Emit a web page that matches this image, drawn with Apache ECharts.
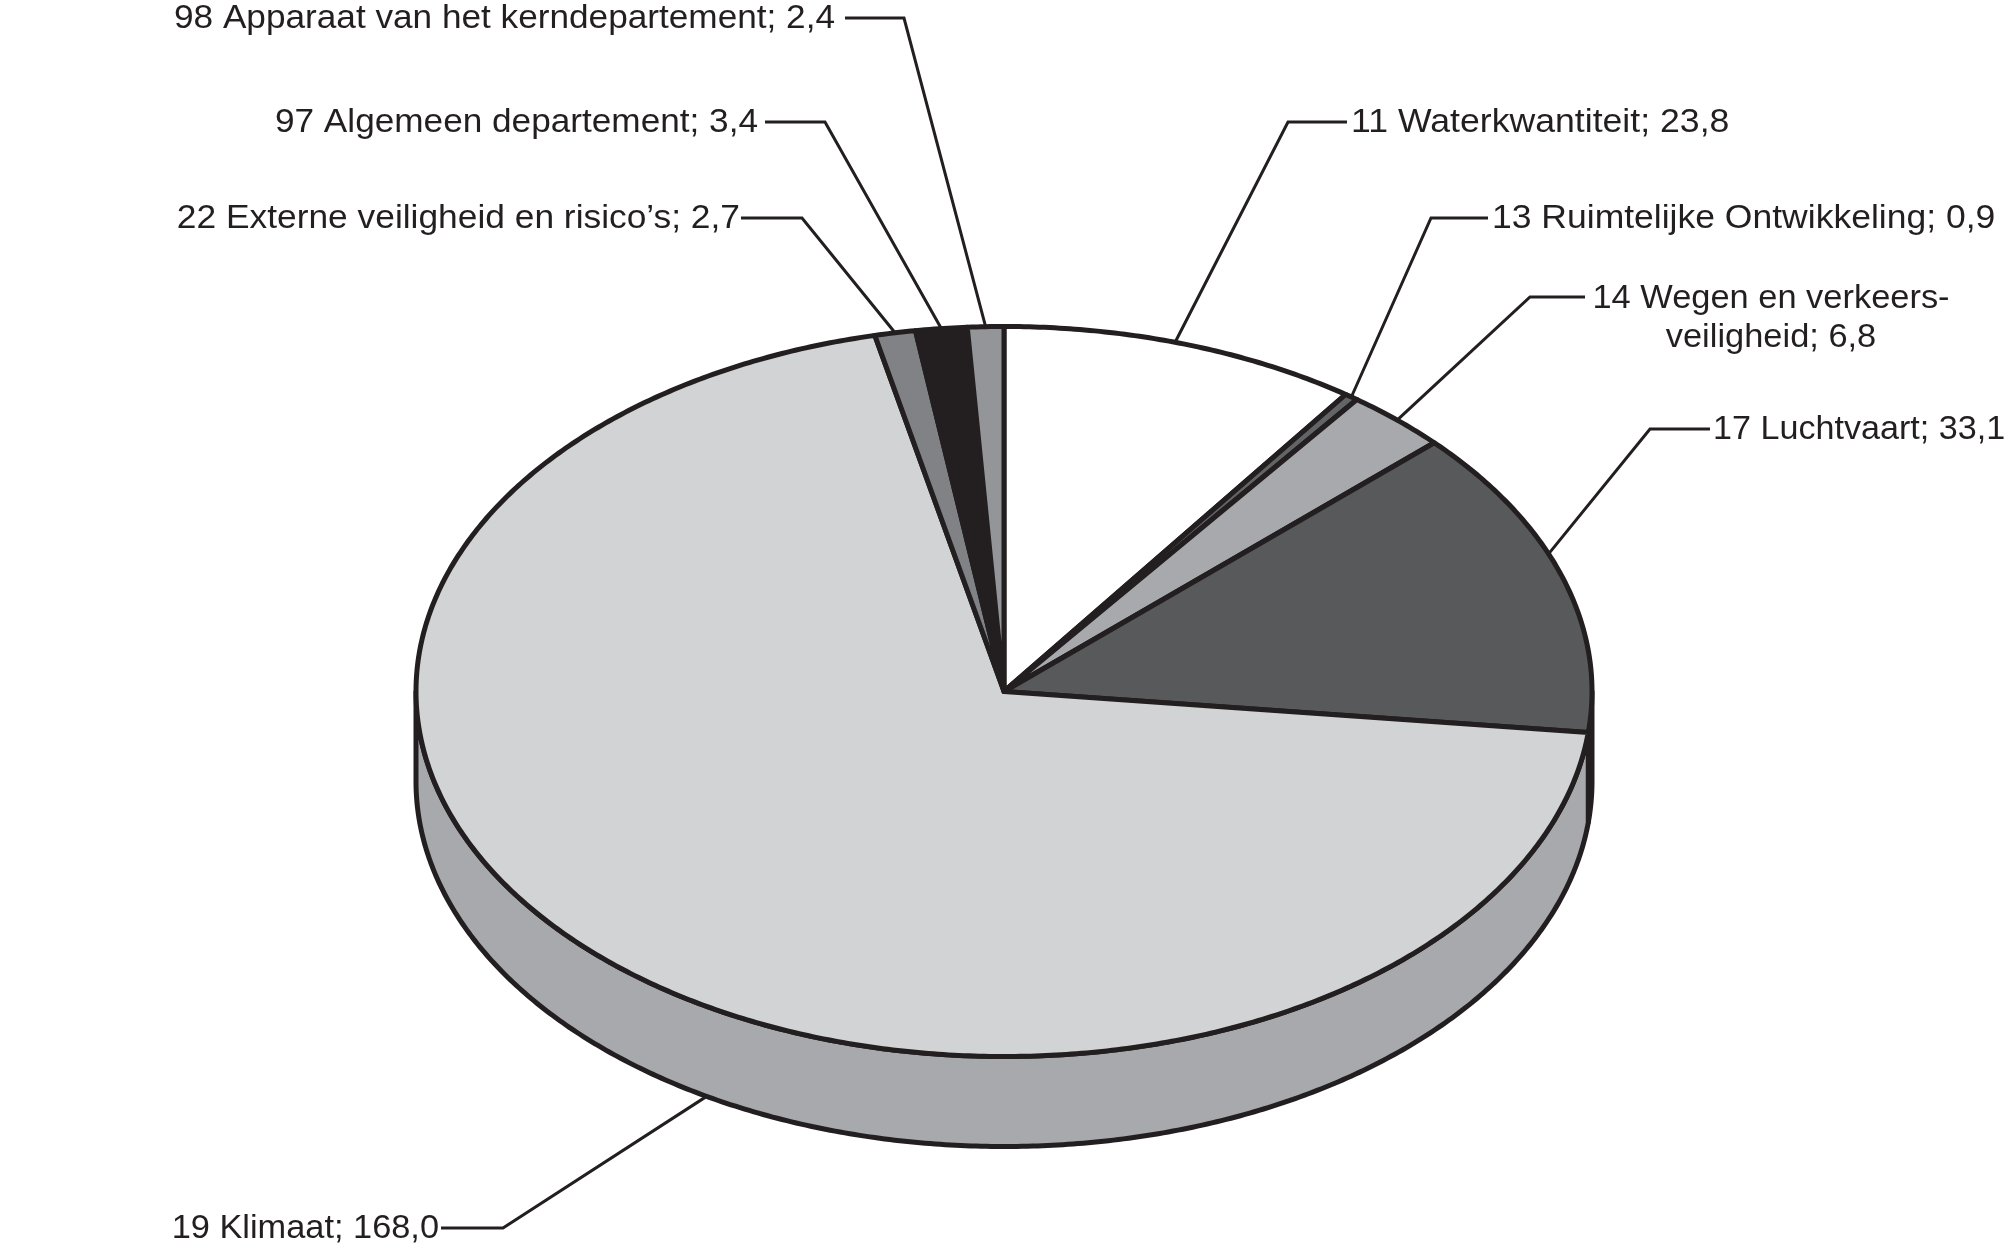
<!DOCTYPE html>
<html><head><meta charset="utf-8">
<style>html,body{margin:0;padding:0;background:#fff}#c{width:2008px;height:1246px}</style>
<script src="https://cdn.jsdelivr.net/npm/echarts@6/dist/echarts.min.js"></script>
</head><body><div id="c"></div>
<script>
const categories = ["11 Waterkwantiteit","13 Ruimtelijke Ontwikkeling","14 Wegen en verkeers-\nveiligheid","17 Luchtvaart","19 Klimaat","22 Externe veiligheid en risico\u2019s","97 Algemeen departement","98 Apparaat van het kerndepartement"];
const values = [23.8,0.9,6.8,33.1,168.0,2.7,3.4,2.4];
const topColors = ["#ffffff","#636466","#a7a9ac","#58595b","#d1d3d4","#808285","#231f20","#939598"];
const wallColors = ["#ffffff","#636466","#a7a9ac","#58595b","#a7a9ac","#808285","#231f20","#939598"];
// label layout: elbow point, text anchor, side, and shift of the leader's end along the rim (degrees)
const labelElbowX = [1288,1431,1530,1650,503,802,825,904];
const labelElbowY = [122,218,297,429,1228,218,122,18];
const labelGapX = [1347,1488,1585,1710,441,741,765,845];
const labelTextX = [1351,1492,1771,1713,439,740,758,835];
const labelAlign = ["left","left","center","left","right","right","right","right"];
const labelScale = [1.08,1.076,1.043,1.034,1.041,1.071,1.066,1.066];
const leaderShift = [-0.85,0,0,-3.9,-11.5,0,0,0];

const CX=1004, CY=691.5, RX=588, RY=365, DEPTH=90;
const INK="#231f20", FONT='"Liberation Sans"', FS=33;
const total = values.reduce((a,b)=>a+b,0);
const starts = []; values.reduce((a,v,i)=>{starts[i]=a; return a+v;},0);
const ang = v => v/total*360;
const pt = (deg,dy=0)=>{const t=deg*Math.PI/180; return [CX+RX*Math.sin(t), CY-RY*Math.cos(t)+dy];};
function arc(a,b,dy){const out=[];const n=Math.max(2,Math.ceil(Math.abs(b-a)*2));for(let i=0;i<=n;i++)out.push(pt(a+(b-a)*i/n,dy));return out;}
const data = values.map((v,i)=>({value:[v,i]}));

const wallSeries = {type:'custom',coordinateSystem:'none',silent:true,z:1,data,
  renderItem(p,api){const i=api.value(1),a=ang(starts[i]),b=a+ang(api.value(0));
    const l=Math.max(a,90),r=Math.min(b,270); if(r<=l) return {type:'group',children:[]};
    return {type:'polygon',shape:{points:arc(l,r,0).concat(arc(l,r,DEPTH).reverse())},
      style:{fill:wallColors[i],stroke:INK,lineWidth:5,lineJoin:'round'}};}};
const topSeries = {type:'custom',coordinateSystem:'none',silent:true,z:2,data,
  renderItem(p,api){const i=api.value(1),a=ang(starts[i]),b=a+ang(api.value(0));
    return {type:'polygon',shape:{points:[[CX,CY]].concat(arc(a,b,0))},
      style:{fill:topColors[i],stroke:INK,lineWidth:5,lineJoin:'round'}};}};
const labelSeries = {type:'custom',coordinateSystem:'none',silent:true,z:3,data,
  renderItem(p,api){const i=api.value(1),v=api.value(0);
    const mid=ang(starts[i])+ang(v)/2+leaderShift[i];
    const end=pt(mid,(mid>90&&mid<270)?DEPTH:0);
    const y=labelElbowY[i];
    const txt=categories[i]+"; "+v.toFixed(1).replace('.',',');
    return {type:'group',children:[
      {type:'polyline',shape:{points:[end,[labelElbowX[i],y],[labelGapX[i],y]]},
       style:{fill:null,stroke:INK,lineWidth:3}},
      {type:'text',x:labelTextX[i],y:y+1,scaleX:labelScale[i],
       style:{text:txt,x:0,y:i==2?-19:0,fill:INK,font:FS+'px '+FONT,align:labelAlign[i],
              verticalAlign:i==2?'top':'middle',lineHeight:39}}
    ]};}};
const chart = echarts.init(document.getElementById('c'),null,{renderer:'canvas'});
chart.setOption({animation:false,backgroundColor:'#fff',series:[wallSeries,topSeries,labelSeries]});
</script></body></html>
